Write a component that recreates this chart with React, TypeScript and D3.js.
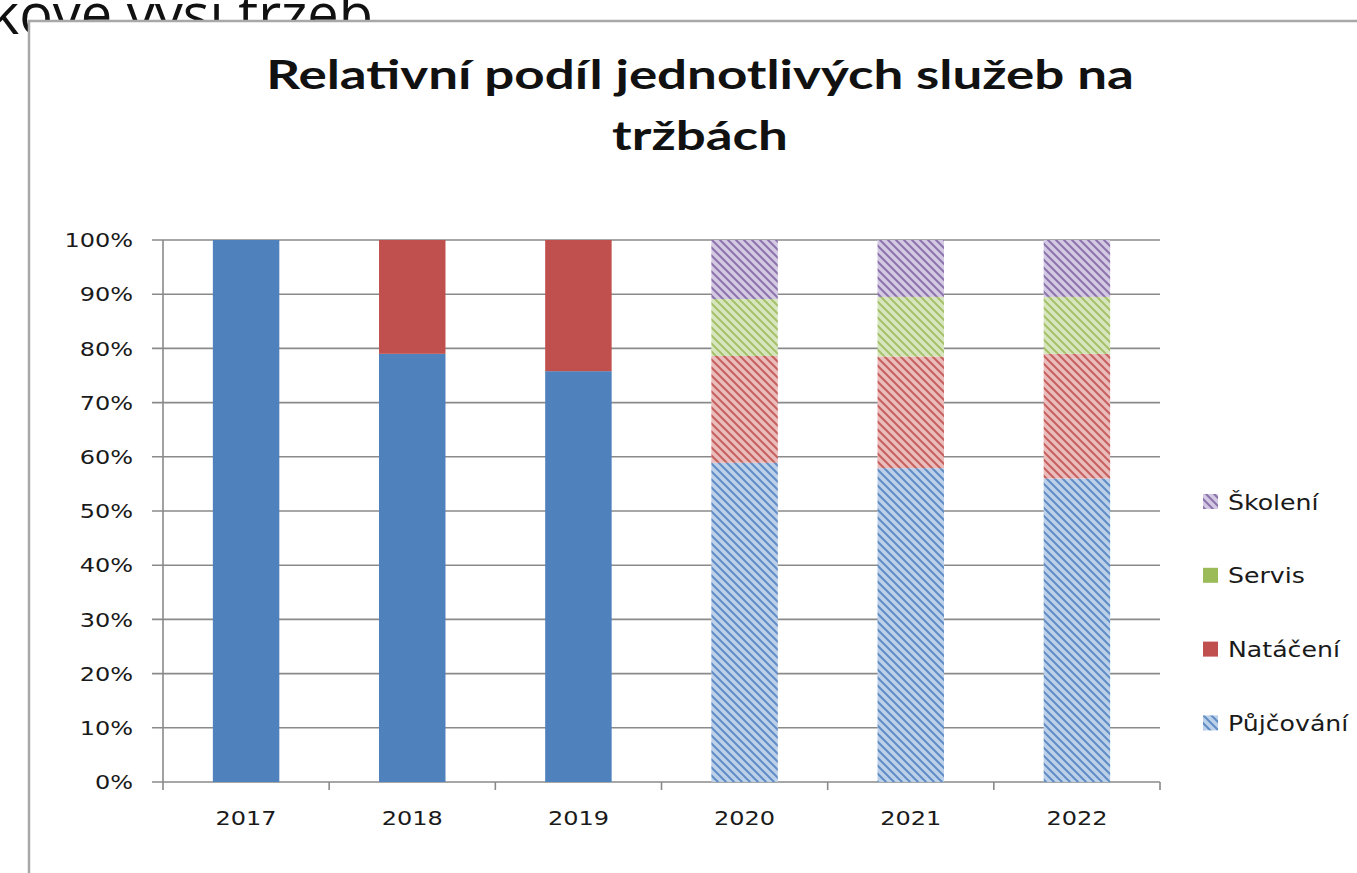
import React from 'react';
import * as d3 from 'd3';

const years = ['2017', '2018', '2019', '2020', '2021', '2022'];
const pujcovani = [100, 79.0, 75.8, 58.9, 57.9, 56.0];
const nataceni = [0, 21.0, 24.2, 19.7, 20.6, 23.0];
const servis = [0, 0, 0, 10.5, 11.0, 10.5];
const skoleni = [0, 0, 0, 10.9, 10.5, 10.5];
const hatchedYears = ['2020', '2021', '2022'];
const yTicks = [0, 10, 20, 30, 40, 50, 60, 70, 80, 90, 100];
const seriesNames = ['Půjčování', 'Natáčení', 'Servis', 'Školení'];
const legendHatched = ['Školení', 'Půjčování'];

const solid: Record<string, string> = {
  'Půjčování': '#4f81bd',
  'Natáčení': '#c0504d',
  'Servis': '#9bbb59',
  'Školení': '#8064a2',
};
const light: Record<string, string> = {
  'Půjčování': '#bcd0ea',
  'Natáčení': '#eabcbb',
  'Servis': '#d8e6c0',
  'Školení': '#d3c9e2',
};
const pid: Record<string, string> = {
  'Půjčování': 'hp',
  'Natáčení': 'hn',
  'Servis': 'hs',
  'Školení': 'hk',
};

export default function App() {
  const W = 1357, H = 873;
  const left = 163, right = 1160, top = 240, bottom = 782;
  const rows = years.map((y, i) => ({
    year: y,
    'Půjčování': pujcovani[i],
    'Natáčení': nataceni[i],
    'Servis': servis[i],
    'Školení': skoleni[i],
  }));
  const stack = d3.stack<any>().keys(seriesNames)(rows);
  const x = d3.scaleBand().domain(years).range([left, right]).paddingInner(0.6).paddingOuter(0.3);
  const xCat = d3.scaleBand().domain(years).range([left, right]);
  const y = d3.scaleLinear().domain([0, 100]).range([bottom, top]);
  const grid = '#8a8a8a';
  const tickFont = { fontFamily: '"DejaVu Sans", sans-serif', fontSize: 20, fill: '#1a1a1a' };
  const SX = 1.2;
  const titleStyle = { fontFamily: 'Lato, sans-serif', fontWeight: 700, fontSize: 41, fill: '#111' };

  return (
    <svg width={W} height={H} style={{ position: 'absolute', left: 0, top: 0 }}>
      <defs>
        {seriesNames.map((s) => (
          <pattern key={s} id={pid[s]} patternUnits="userSpaceOnUse" width={8} height={8}>
            <rect width={8} height={8} fill={light[s]} />
            <path d="M-2,6 L2,10 M0,0 L8,8 M6,-2 L10,2" stroke={solid[s]} strokeWidth={2} opacity={0.85} />
          </pattern>
        ))}
      </defs>
      <rect width={W} height={H} fill="#fff" />
      <text x={373} y={34} textAnchor="end" style={{ fontFamily: '"Open Sans", sans-serif', fontSize: 56, fill: '#111' }}>celkové výši tržeb</text>
      <rect x={29} y={21} width={1400} height={900} fill="#fff" stroke="#a8a8a8" strokeWidth={2.5} />

      <text transform="translate(700,89) scale(1.29,1)" textAnchor="middle" style={titleStyle}>
        Relativní podíl jednotlivých služeb na
      </text>
      <text transform="translate(700,150) scale(1.29,1)" textAnchor="middle" style={titleStyle}>
        tržbách
      </text>

      {yTicks.map((t) => (
        <g key={t}>
          <line x1={left - 11} x2={right} y1={y(t)} y2={y(t)} stroke={grid} strokeWidth={1.6} />
          <text transform={`translate(133,${y(t)}) scale(${SX},1)`} dy="0.36em" textAnchor="end" style={tickFont}>{t}%</text>
        </g>
      ))}
      <line x1={left} x2={left} y1={top} y2={bottom + 8} stroke={grid} strokeWidth={1.6} />
      {years.map((yr) => (
        <line key={yr} x1={(xCat(yr) as number) + xCat.bandwidth()} x2={(xCat(yr) as number) + xCat.bandwidth()} y1={bottom} y2={bottom + 8} stroke={grid} strokeWidth={1.6} />
      ))}
      {years.map((yr) => (
        <text key={yr} transform={`translate(${(xCat(yr) as number) + xCat.bandwidth() / 2},818) scale(${SX},1)`} dy="0.36em" textAnchor="middle" style={tickFont}>{yr}</text>
      ))}

      {stack.map((layer) => (
        <g key={layer.key}>
          {layer.map((d, i) => {
            const yr = years[i];
            const h = y(d[0]) - y(d[1]);
            if (h <= 0) return null;
            const hatched = hatchedYears.includes(yr);
            return (
              <rect key={yr} x={x(yr)} y={y(d[1])} width={x.bandwidth()} height={h}
                fill={hatched ? `url(#${pid[layer.key]})` : solid[layer.key]} />
            );
          })}
        </g>
      ))}

      {[...seriesNames].reverse().map((s, i) => {
        const cy = 502 + i * 73.8;
        return (
          <g key={s}>
            <rect x={1203} y={cy - 8} width={15} height={15} fill={legendHatched.includes(s) ? `url(#${pid[s]})` : solid[s]} />
            <text transform={`translate(1228,${cy}) scale(${SX},1)`} dy="0.36em" style={{ ...tickFont, fontSize: 21 }}>{s}</text>
          </g>
        );
      })}
    </svg>
  );
}
